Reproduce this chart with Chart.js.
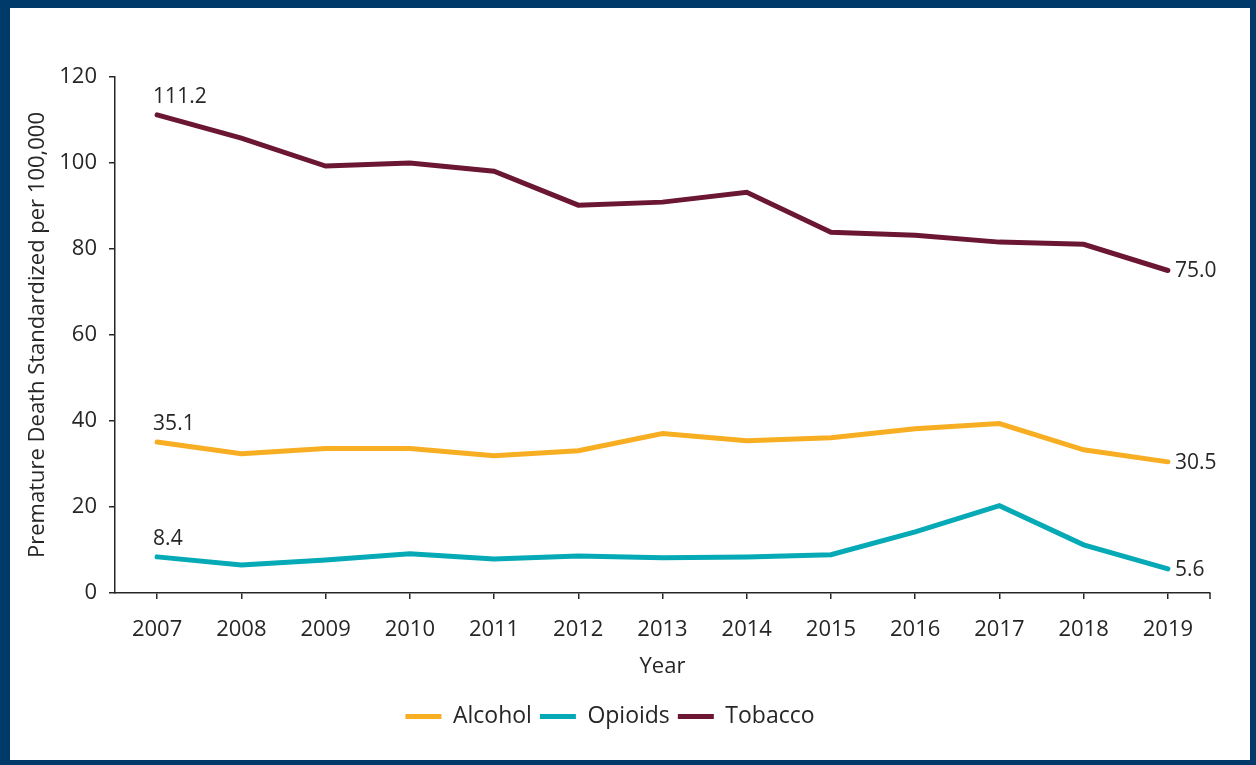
<!DOCTYPE html>
<html>
<head>
<meta charset="utf-8">
<script src="https://cdn.jsdelivr.net/npm/chart.js@4.4.0/dist/chart.umd.min.js"></script>
<style>
html, body { margin: 0; padding: 0; background: #003a6b; }
#frame { position: absolute; left: 10px; top: 8px; width: 1240px; height: 752px; background: #fff; }
</style>
</head>
<body>
<div id="frame"><canvas id="chart"></canvas></div>
<script>
"use strict";
var years = ['2007','2008','2009','2010','2011','2012','2013','2014','2015','2016','2017','2018','2019'];
var alcohol = [35.1, 32.4, 33.6, 33.6, 31.9, 33.1, 37.1, 35.4, 36.1, 38.2, 39.4, 33.3, 30.5];
var opioids = [8.4, 6.5, 7.7, 9.1, 7.9, 8.6, 8.2, 8.4, 8.9, 14.2, 20.3, 11.2, 5.6];
var tobacco = [111.2, 105.8, 99.3, 100.0, 98.1, 90.2, 90.9, 93.2, 83.9, 83.2, 81.6, 81.1, 75.0];

var textColor = '#262626';
var axisColor = '#262626';
var fontFamily = '"Open Sans", Lato, sans-serif';

// first and last value written next to each line, plus the closing tick of the x axis
var endLabels = {
    id: 'endLabels',
    afterDatasetsDraw: function (chart) {
        var ctx = chart.ctx;
        var area = chart.chartArea;
        ctx.save();
        ctx.strokeStyle = axisColor;
        ctx.lineWidth = 1.5;
        ctx.beginPath();
        ctx.moveTo(area.right, area.bottom);
        ctx.lineTo(area.right, area.bottom + 6);
        ctx.stroke();

        ctx.fillStyle = textColor;
        ctx.font = '21px ' + fontFamily;
        chart.data.datasets.forEach(function (ds, i) {
            var pts = chart.getDatasetMeta(i).data;
            var first = pts[0], last = pts[pts.length - 1];
            ctx.textAlign = 'left';
            ctx.textBaseline = 'alphabetic';
            ctx.fillText(ds.data[0].toFixed(1), first.x - 4, first.y - 12);
            ctx.textBaseline = 'middle';
            ctx.fillText(ds.data[ds.data.length - 1].toFixed(1), last.x + 7, last.y + 1);
        });
        ctx.restore();
    }
};

function line(label, data, color) {
    return {
        label: label,
        data: data,
        borderColor: color,
        backgroundColor: color,
        borderWidth: 5,
        borderCapStyle: 'round',
        borderJoinStyle: 'miter',
        pointRadius: 0,
        pointStyle: 'line',
        tension: 0
    };
}

Chart.defaults.font.family = fontFamily;
Chart.defaults.color = textColor;

new Chart(document.getElementById('chart'), {
    type: 'line',
    data: {
        labels: years,
        datasets: [
            line('Alcohol', alcohol, '#f7ae22'),
            line('Opioids', opioids, '#05aab6'),
            line('Tobacco', tobacco, '#6b1632')
        ]
    },
    options: {
        responsive: true,
        maintainAspectRatio: false,
        animation: false,
        layout: { padding: { top: 69, right: 40, bottom: 22, left: 0 } },
        plugins: {
            legend: {
                position: 'bottom',
                labels: {
                    usePointStyle: true,
                    pointStyleWidth: 36,
                    padding: 8,
                    font: { size: 23 },
                    color: textColor
                }
            },
            tooltip: { enabled: false }
        },
        scales: {
            x: {
                offset: true,
                grid: { drawOnChartArea: false, tickLength: 6, color: axisColor, lineWidth: 1.5 },
                border: { color: axisColor, width: 1.5 },
                ticks: { padding: 18, font: { size: 22 }, color: textColor, maxRotation: 0 },
                title: { display: true, text: 'Year', font: { size: 22 }, color: textColor, padding: { top: 10, bottom: 17 } },
                afterFit: function (scale) { scale.height = 104; }
            },
            y: {
                min: 0,
                max: 120,
                ticks: { stepSize: 20, padding: 12, font: { size: 22 }, color: textColor },
                grid: { drawOnChartArea: false, tickLength: 6, color: axisColor, lineWidth: 1.5 },
                border: { color: axisColor, width: 1.5 },
                title: { display: true, text: 'Premature Death Standardized per 100,000', font: { size: 22 }, color: textColor, padding: { top: 15, bottom: 0 } },
                afterFit: function (scale) { scale.width = 105; }
            }
        }
    },
    plugins: [endLabels]
});
</script>
</body>
</html>
